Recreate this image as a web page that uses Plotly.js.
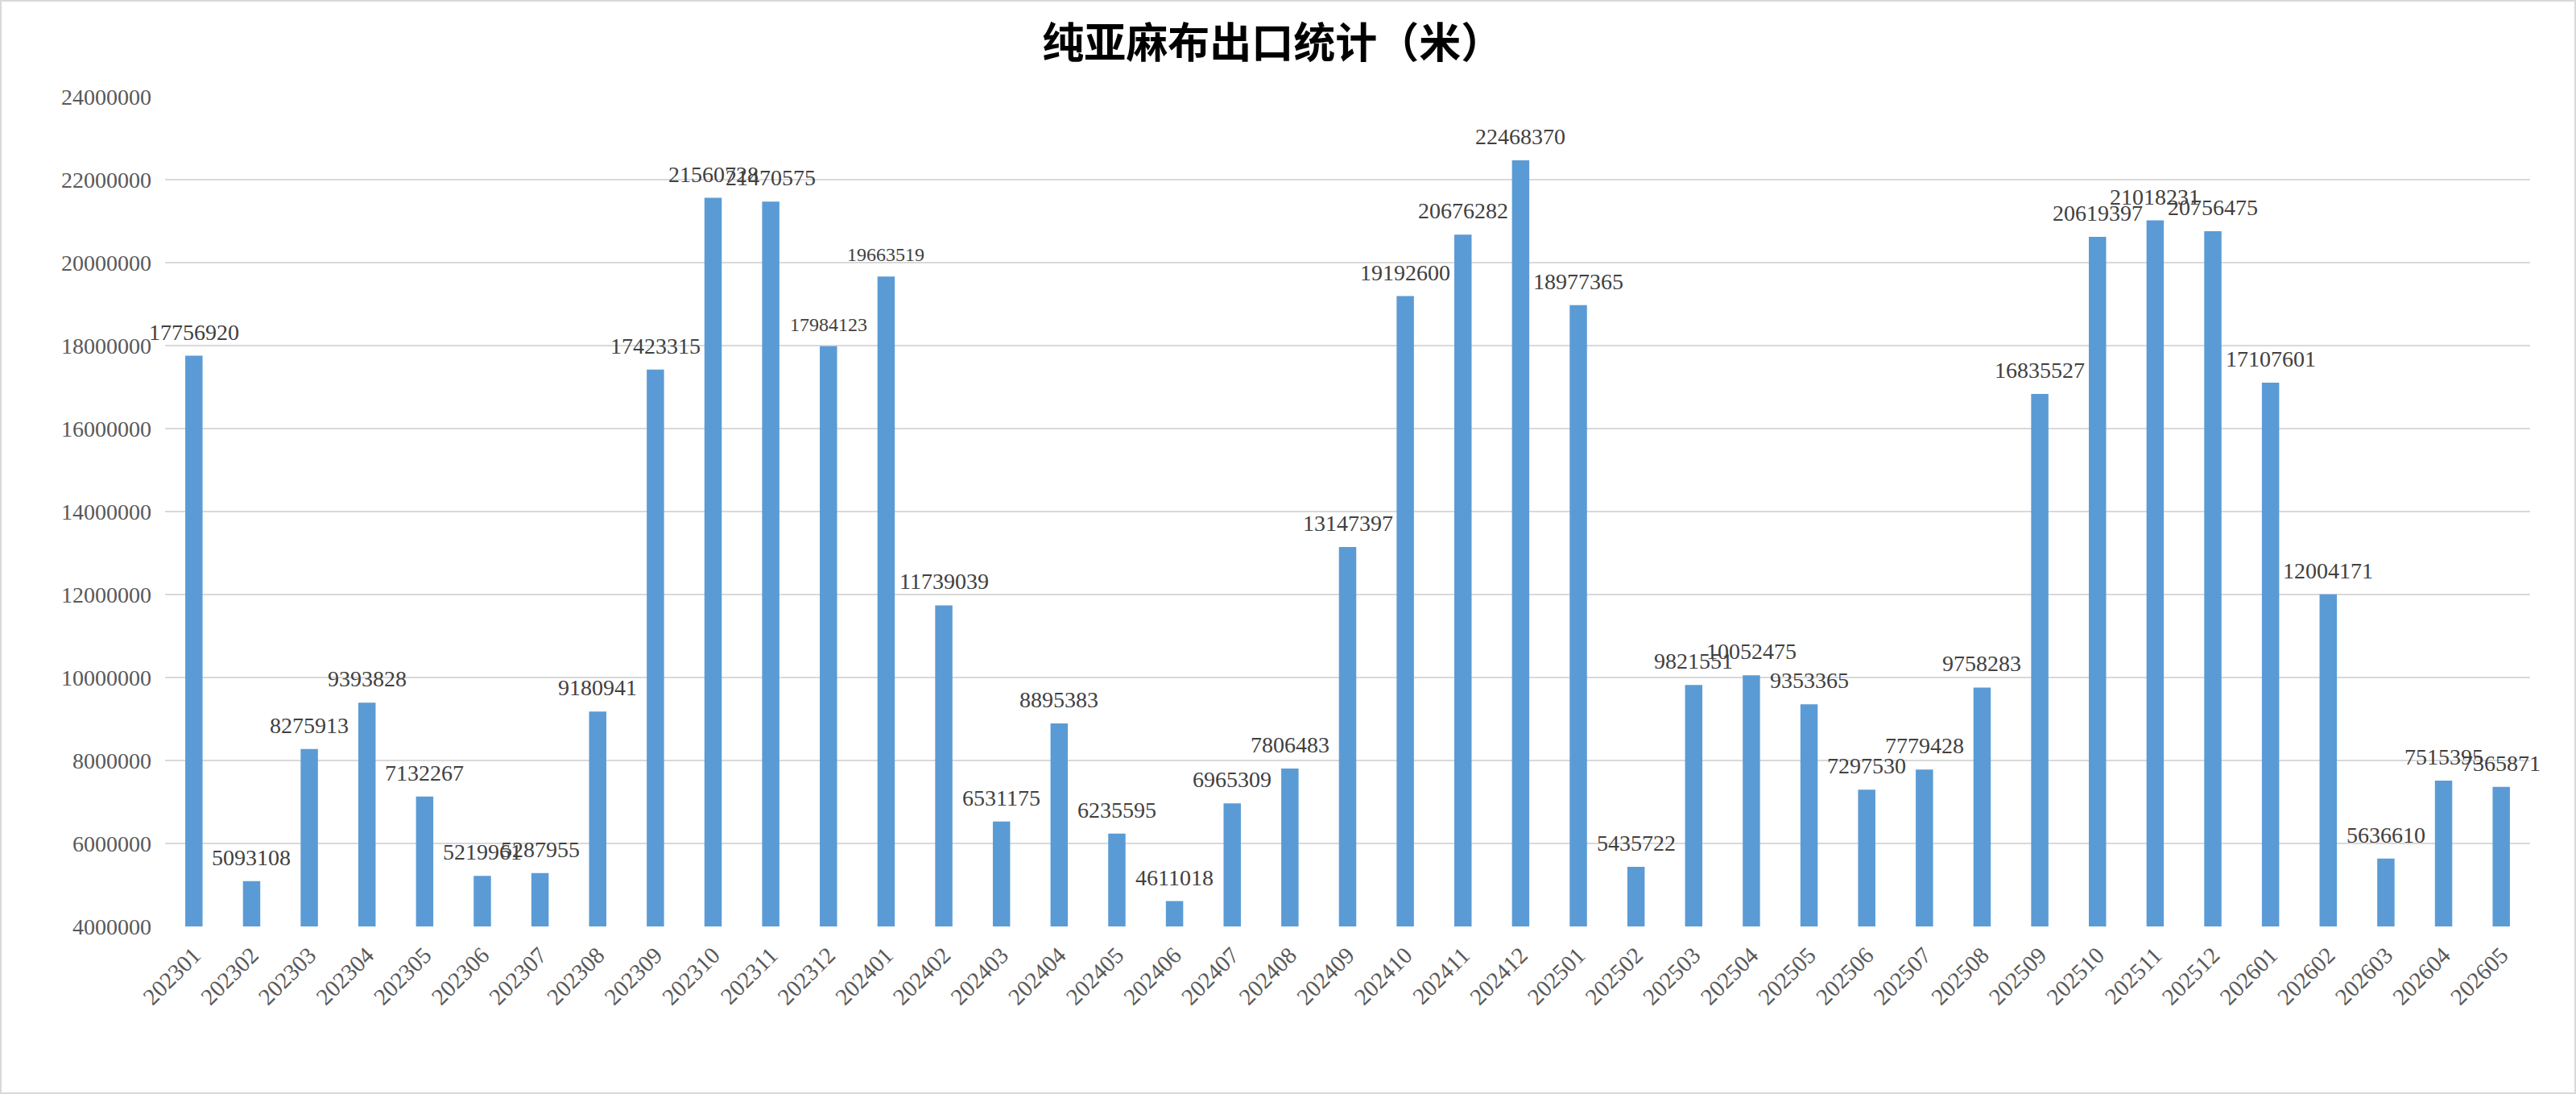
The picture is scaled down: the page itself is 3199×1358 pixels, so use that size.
<!DOCTYPE html>
<html>
<head>
<meta charset="utf-8">
<script src="https://cdn.plot.ly/plotly-3.0.1.min.js"></script>
<style>
  body { margin: 0; background: #fff; }
  #wrap { width: 3199px; height: 1358px; border: 2px solid #d9d9d9; box-sizing: border-box; }
  #chart { width: 3195px; height: 1354px; }
</style>
</head>
<body>
<div id="wrap"><div id="chart"></div></div>
<script>
// 月份（类别）
const months = [
  '202301', '202302', '202303', '202304', '202305', '202306', '202307', '202308', '202309', '202310', '202311', '202312',
  '202401', '202402', '202403', '202404', '202405', '202406', '202407', '202408', '202409', '202410', '202411', '202412',
  '202501', '202502', '202503', '202504', '202505', '202506', '202507', '202508', '202509', '202510', '202511', '202512',
  '202601', '202602', '202603', '202604', '202605'
];

// 出口量（米）
const exportMeters = [
  17756920, 5093108, 8275913, 9393828, 7132267, 5219961, 5287955, 9180941, 17423315, 21560728, 21470575, 17984123,
  19663519, 11739039, 6531175, 8895383, 6235595, 4611018, 6965309, 7806483, 13147397, 19192600, 20676282, 22468370,
  18977365, 5435722, 9821551, 10052475, 9353365, 7297530, 7779428, 9758283, 16835527, 20619397, 21018231, 20756475,
  17107601, 12004171, 5636610, 7515395, 7365871
];

// y轴刻度
const yTicks = [4000000, 6000000, 8000000, 10000000, 12000000, 14000000, 16000000, 18000000, 20000000, 22000000, 24000000];

// 原图中这两个标签字号较小
const smallLabelMonths = ['202312', '202401'];

// 数据标签（x 用类别序号，避免数字字符串被当成位置）
const labels = exportMeters.map((v, i) => ({
  x: i,
  y: v,
  text: String(v),
  showarrow: false,
  xanchor: 'center',
  yanchor: 'bottom',
  yshift: 12,
  font: {
    family: 'Liberation Serif, serif',
    size: smallLabelMonths.includes(months[i]) ? 24 : 28,
    color: '#404040'
  }
}));

Plotly.newPlot('chart', [{
  type: 'bar',
  x: months,
  y: exportMeters,
  marker: { color: '#5b9bd5' },
  hoverinfo: 'x+y'
}], {
  width: 3195,
  height: 1354,
  margin: { l: 203, r: 55, t: 118, b: 206 },
  paper_bgcolor: '#ffffff',
  plot_bgcolor: '#ffffff',
  bargap: 0.7,
  showlegend: false,
  title: {
    text: '纯亚麻布出口统计（米）',
    font: { family: 'Noto Sans CJK SC', size: 52, color: '#000000', weight: 'bold' },
    xref: 'container',
    x: 0.494,
    xanchor: 'center',
    yref: 'container',
    y: 0.962,
    yanchor: 'middle'
  },
  xaxis: {
    type: 'category',
    range: [-0.5, months.length - 0.5],
    tickangle: -45,
    tickfont: { family: 'Liberation Serif, serif', size: 29, color: '#595959' },
    showgrid: false,
    showline: false,
    ticks: '',
    ticklabelstandoff: 12
  },
  yaxis: {
    range: [4000000, 24000000],
    tickvals: yTicks,
    ticktext: yTicks.map(String),
    tickfont: { family: 'Liberation Serif, serif', size: 28, color: '#595959' },
    showgrid: true,
    gridcolor: '#d9d9d9',
    gridwidth: 2,
    zeroline: false,
    showline: false,
    ticks: '',
    ticklabelstandoff: 16
  },
  annotations: labels
}, { displayModeBar: false, staticPlot: true });
</script>
</body>
</html>
